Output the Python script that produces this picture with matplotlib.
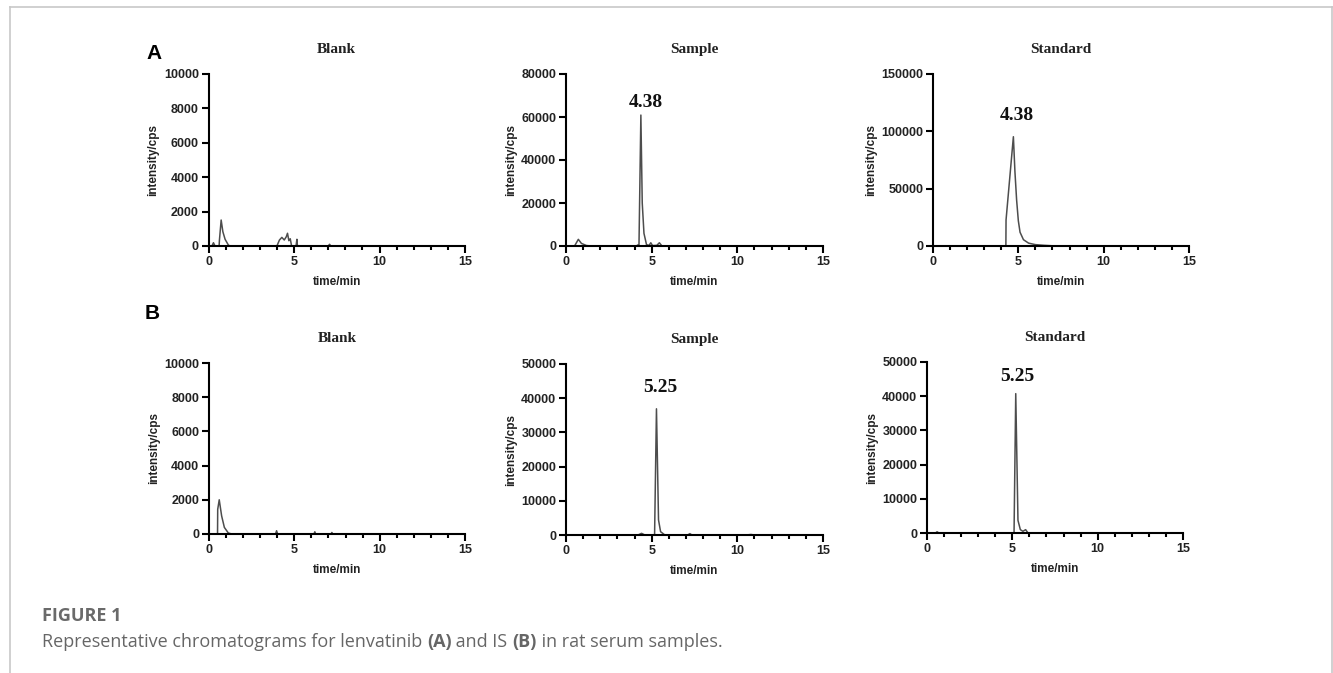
import matplotlib
matplotlib.use("Agg")
import matplotlib.pyplot as plt
from matplotlib.lines import Line2D
from matplotlib.ticker import MultipleLocator

W, H = 1333, 673

panel_titles = ["Blank", "Sample", "Standard"]
row_letters = ["A", "B"]
x_ticks = [0, 5, 10, 15]

# y ticks per panel
yticks_a = [
    [0, 2000, 4000, 6000, 8000, 10000],
    [0, 20000, 40000, 60000, 80000],
    [0, 50000, 100000, 150000],
]
yticks_b = [
    [0, 2000, 4000, 6000, 8000, 10000],
    [0, 10000, 20000, 30000, 40000, 50000],
    [0, 10000, 20000, 30000, 40000, 50000],
]

# row A traces (time/min, intensity/cps)
blank_a_t = [0, 0.2, 0.29, 0.38, 0.62, 0.64, 0.74, 0.84, 0.97, 1.17, 1.3,
             4.0, 4.15, 4.29, 4.43, 4.55, 4.62, 4.7, 4.78, 4.86,
             5.12, 5.17, 5.2, 5.3, 7.0, 7.08, 7.15, 15]
blank_a_y = [0, 0, 190, 0, 0, 350, 1510, 830, 390, 40, 0,
             0, 350, 500, 350, 540, 740, 310, 420, 0,
             0, 390, 0, 0, 0, 100, 0, 0]

sample_a_t = [0, 0.5, 0.72, 0.9, 1.2, 1.5, 4.1, 4.2, 4.26, 4.37, 4.45, 4.55,
              4.7, 4.85, 4.95, 5.05, 5.3, 5.45, 5.6, 6.0, 15]
sample_a_y = [0, 0, 3100, 1200, 200, 0, 0, 500, 500, 60900, 20000, 5900,
              600, 300, 1500, 200, 300, 1500, 0, 0, 0]

standard_a_t = [0, 4.27, 4.28, 4.71, 4.8, 4.9, 5.0, 5.1, 5.3, 5.6, 6.0, 6.5, 7.2, 15]
standard_a_y = [0, 0, 22700, 95300, 65000, 40000, 22000, 12000, 5500, 2500, 1200, 600, 0, 0]

# row B traces
blank_b_t = [0, 0.5, 0.51, 0.6, 0.74, 0.9, 1.13, 1.33, 3.9, 3.96, 4.02,
             6.15, 6.2, 6.25, 7.15, 7.2, 7.25, 15]
blank_b_y = [0, 0, 1440, 2000, 1060, 385, 60, 0, 0, 190, 0,
             0, 130, 0, 0, 90, 0, 0]

sample_b_t = [0, 4.2, 4.41, 4.6, 5.17, 5.28, 5.4, 5.52, 5.77, 7.1, 7.23, 7.35,
              10.5, 10.8, 11.0, 15]
sample_b_y = [0, 0, 490, 0, 0, 36900, 4400, 975, 0, 0, 400, 0,
              0, 150, 0, 0]

standard_b_t = [0, 0.5, 0.59, 0.7, 5.1, 5.2, 5.33, 5.47, 5.62, 5.78, 5.92, 15]
standard_b_y = [0, 0, 350, 0, 0, 40750, 3700, 975, 500, 975, 0, 0]

# peak labels: (text, x, y) in data units, None for blank
peaks_a = [None, ("4.38", 4.65, 64700), ("4.38", 4.9, 109900)]
peaks_b = [None, ("5.25", 5.48, 41900), ("5.25", 5.3, 44500)]

traces_a = [(blank_a_t, blank_a_y), (sample_a_t, sample_a_y), (standard_a_t, standard_a_y)]
traces_b = [(blank_b_t, blank_b_y), (sample_b_t, sample_b_y), (standard_b_t, standard_b_y)]

# axes boxes in pixels: left, right, top, bottom
boxes_a = [(208.5, 465, 74, 246), (566, 823, 74, 246), (933, 1189, 74, 246)]
boxes_b = [(209, 465, 363, 534), (566, 823, 364, 535), (927, 1183, 362, 533)]

sans = "Liberation Sans"
serif = "Liberation Serif"

fig = plt.figure(figsize=(W / 100, H / 100), dpi=100)


def make_panel(box, trace, title, yticks, peak):
    l, r, t, b = box
    ax = fig.add_axes([l / W, 1 - b / H, (r - l) / W, (b - t) / H])
    ax.plot(trace[0], trace[1], color="#4d4d4d", lw=1.1, zorder=2)
    ax.set_xlim(0, 15)
    ax.set_ylim(0, yticks[-1])
    ax.set_xticks(x_ticks)
    ax.xaxis.set_minor_locator(MultipleLocator(1))
    ax.set_yticks(yticks)
    for s in ["top", "right"]:
        ax.spines[s].set_visible(False)
    for s in ["left", "bottom"]:
        ax.spines[s].set_linewidth(1.5)
        ax.spines[s].set_zorder(3)
    ax.tick_params(which="major", length=5, width=1.5, pad=2)
    ax.tick_params(which="minor", length=3, width=1.5)
    for lab in ax.get_xticklabels() + ax.get_yticklabels():
        lab.set_fontfamily(sans)
        lab.set_fontweight("bold")
        lab.set_fontsize(9)
        lab.set_color("#222222")
    ax.set_xlabel("time/min", fontfamily=sans, fontweight="bold", fontsize=8.5,
                  labelpad=6, color="#222222")
    ax.set_ylabel("intensity/cps", fontfamily=sans, fontweight="bold", fontsize=8.5,
                  labelpad=3, color="#222222")
    ax.set_title(title, fontfamily=serif, fontweight="bold", fontsize=11, pad=15,
                 color="#222222")
    if peak is not None:
        ax.text(peak[1], peak[2], peak[0], fontfamily=serif, fontweight="bold",
                fontsize=14, ha="center", va="baseline", color="#111111")
    return ax


for i in range(3):
    make_panel(boxes_a[i], traces_a[i], panel_titles[i], yticks_a[i], peaks_a[i])
    make_panel(boxes_b[i], traces_b[i], panel_titles[i], yticks_b[i], peaks_b[i])

# panel letters
fig.text(154 / W, 1 - 59 / H, row_letters[0], fontfamily=sans, fontweight="bold",
         fontsize=15, ha="center", va="baseline")
fig.text(152 / W, 1 - 319 / H, row_letters[1], fontfamily=sans, fontweight="bold",
         fontsize=15, ha="center", va="baseline")

# page frame
frame_col = "#c8c8c8"
fig.add_artist(Line2D([9.5 / W, 1332.5 / W], [1 - 7 / H, 1 - 7 / H], color=frame_col, lw=1.2))
fig.add_artist(Line2D([9.5 / W, 9.5 / W], [0, 1 - 7 / H], color=frame_col, lw=1.2))
fig.add_artist(Line2D([1332.3 / W, 1332.3 / W], [0, 1 - 7 / H], color=frame_col, lw=1.2))

# caption
cap_font = "Open Sans"
fig.text(42 / W, 1 - 621 / H, "FIGURE 1", fontfamily=cap_font, fontweight="bold",
         fontsize=13, color="#6a6a6a", va="baseline")

caption_parts = [
    ("Representative chromatograms for lenvatinib ", "normal"),
    ("(A)", "bold"),
    (" and IS ", "normal"),
    ("(B)", "bold"),
    (" in rat serum samples.", "normal"),
]
renderer = fig.canvas.get_renderer()
x = 42 / W
for txt, wt in caption_parts:
    tt = fig.text(x, 1 - 647 / H, txt, fontfamily=cap_font, fontweight=wt,
                  fontsize=13, color="#666666", va="baseline")
    bb = tt.get_window_extent(renderer=renderer)
    x += bb.width / W

fig.savefig("out.png", dpi=100)
